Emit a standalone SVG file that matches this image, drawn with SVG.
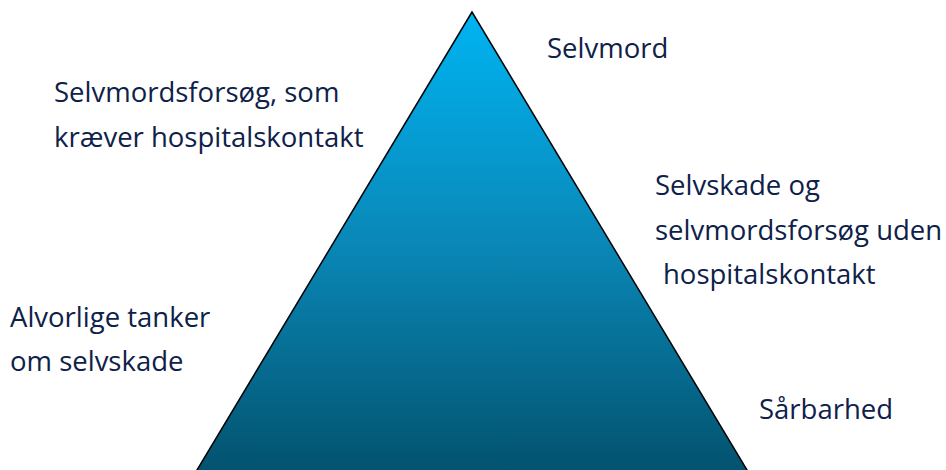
<svg xmlns="http://www.w3.org/2000/svg" width="946" height="470" viewBox="0 0 946 470">
  <defs>
    <linearGradient id="grad" x1="0" y1="12" x2="0" y2="470" gradientUnits="userSpaceOnUse">
      <stop offset="0" stop-color="#00b4f2"/>
      <stop offset="0.5" stop-color="#0a88b8"/>
      <stop offset="1" stop-color="#03536f"/>
    </linearGradient>
    <style>
      .lbl { font-family: "Open Sans", "Noto Sans", "DejaVu Sans", sans-serif; font-size: 27.5px; fill: #0e2149; }
    </style>
  </defs>
  <rect width="946" height="470" fill="#ffffff"/>
  <g id="pyramid">
    <polygon points="472,12 191,480 753,480" fill="url(#grad)" stroke="#000000" stroke-width="1.5" stroke-linejoin="miter"/>
  </g>
  <g id="label-selvmord">
    <text class="lbl" x="547" y="58">Selvmord</text>
  </g>
  <g id="label-forsog-hospital">
    <text class="lbl" x="54" y="102">Selvmordsforsøg, som</text>
    <text class="lbl" x="54" y="147">kræver hospitalskontakt</text>
  </g>
  <g id="label-selvskade">
    <text class="lbl" x="655" y="195">Selvskade og</text>
    <text class="lbl" x="655" y="240">selvmordsforsøg uden</text>
    <text class="lbl" x="663" y="284">hospitalskontakt</text>
  </g>
  <g id="label-tanker">
    <text class="lbl" x="10" y="327">Alvorlige tanker</text>
    <text class="lbl" x="10" y="371">om selvskade</text>
  </g>
  <g id="label-sarbarhed">
    <text class="lbl" x="759" y="419">Sårbarhed</text>
  </g>
  <g id="connectors"></g>
</svg>
